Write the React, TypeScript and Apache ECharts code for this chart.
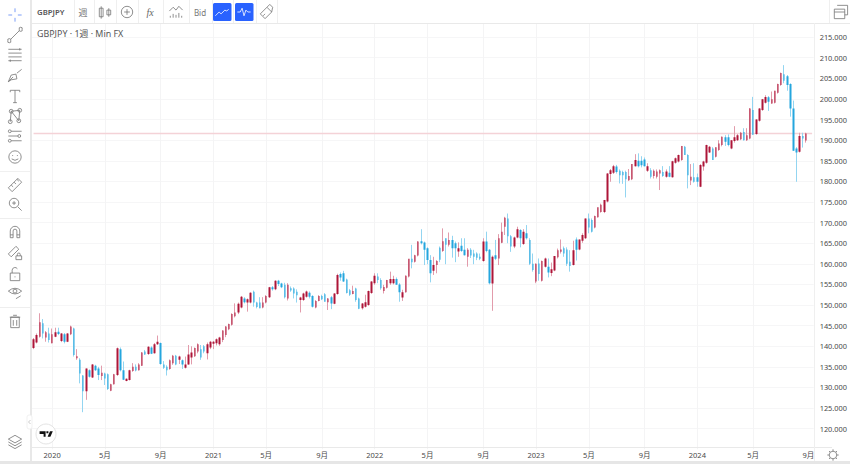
import React, { useEffect, useRef } from "react";
import * as echarts from "echarts";

// Weekly bars, each row: [open, high, low, close]
const weeks2019 = [
  [139.6,142.0,139.3,141.7],[140.9,143.1,140.7,142.7],[142.3,148.0,142.1,145.8],[145.6,146.6,141.9,143.1],
  [142.1,143.7,141.1,143.4],[143.1,144.5,140.9,141.5],
];
const weeks2020 = [
  [140.7,144.3,140.7,142.9],[142.3,144.5,142.2,143.4],[143.5,144.5,142.7,143.0],[141.3,143.2,141.0,143.1],
  [142.9,143.2,140.7,141.1],[141.1,143.2,141.0,143.1],[142.9,145.0,142.7,144.8],[144.3,144.5,137.5,137.9],
  [137.1,139.3,136.7,137.6],[136.7,137.1,131.0,133.4],[132.9,133.0,124.0,129.1],[129.1,134.6,127.0,134.6],
  [134.2,134.4,132.4,132.6],[132.4,135.7,132.3,135.6],[135.3,135.5,134.0,134.2],[134.6,135.0,131.8,133.0],
  [132.8,135.3,131.8,133.6],[133.4,133.6,130.6,132.2],[133.2,133.4,129.4,129.6],[129.2,130.9,129.1,130.8],
  [130.8,133.3,130.7,133.2],[133.0,139.7,132.8,139.5],[139.3,139.7,133.9,134.2],[134.2,136.3,131.8,131.9],
  [131.6,132.2,131.5,132.1],[131.8,134.3,131.7,134.2],[134.0,135.9,133.8,135.0],[135.0,135.6,133.9,134.1],
  [134.2,135.9,134.1,135.6],[135.3,138.6,135.2,138.5],[138.7,139.1,137.9,138.0],[138.1,140.0,137.9,139.9],
  [139.7,140.0,138.1,138.2],[138.3,140.8,138.2,140.5],[140.5,142.6,140.3,141.1],[140.8,140.9,135.5,135.7],
  [135.6,136.4,134.5,134.8],[135.0,135.4,132.9,134.2],[134.5,136.8,134.3,136.6],[135.9,137.9,135.5,137.7],
  [137.7,137.9,135.4,135.6],[136.7,137.7,135.7,137.5],[136.6,136.8,134.5,135.6],[134.8,137.5,134.6,135.6],
  [135.6,140.3,135.5,138.0],[137.3,140.0,135.6,138.5],[137.6,139.7,137.4,139.6],[138.7,140.7,138.3,140.5],
  [139.3,140.3,136.7,137.3],[140.0,140.3,138.3,138.7],[138.3,140.9,136.8,140.5],[139.7,141.3,139.3,141.1],
];
const weeks2021 = [
  [140.6,141.3,139.3,141.1],[140.7,141.9,140.2,141.7],[140.5,142.3,140.1,142.1],[141.5,143.9,141.0,143.8],
  [142.7,144.9,142.2,144.8],[144.1,145.5,143.9,145.4],[145.2,148.0,145.0,147.8],[147.3,150.4,147.0,148.2],
  [148.2,150.6,147.8,150.3],[149.4,152.2,149.2,152.0],[151.6,151.9,150.4,150.7],[150.6,151.6,148.4,151.4],
  [150.6,153.1,150.4,153.0],[153.2,153.5,149.6,150.6],[150.6,150.8,149.2,149.5],[150.6,151.9,149.2,149.2],
  [149.4,151.9,149.2,150.6],[150.6,152.4,150.4,152.2],[151.9,154.4,151.7,154.3],[154.3,154.6,153.5,153.8],
  [153.8,156.0,153.6,155.9],[155.9,156.1,154.6,155.1],[155.2,155.4,154.1,154.3],[154.9,155.4,151.6,151.9],
  [151.6,155.3,151.1,154.9],[154.1,154.5,153.2,153.5],[154.0,154.3,151.6,152.8],[153.2,153.8,150.6,152.4],
  [151.2,152.0,148.2,151.8],[151.2,153.0,151.0,152.8],[152.0,153.5,151.8,153.3],[153.0,153.3,151.6,152.0],
  [152.2,152.4,149.4,149.6],[149.4,151.2,149.2,151.0],[151.0,152.4,150.9,152.2],[152.2,152.5,151.2,151.4],
  [152.6,152.9,150.8,150.8],[150.7,151.7,148.8,151.6],[151.9,152.2,149.0,150.4],[150.3,152.9,150.2,152.8],
  [152.7,157.6,152.5,157.3],[157.5,157.9,155.9,156.7],[157.7,158.3,155.6,155.7],[156.2,156.4,152.8,152.9],
  [153.6,153.9,152.2,152.5],[152.7,154.7,152.6,153.4],[154.0,154.2,150.8,151.2],[151.6,151.8,149.0,149.1],
  [149.2,150.5,148.9,150.4],[149.6,152.5,149.4,150.7],[150.0,153.5,149.8,153.4],[152.9,155.8,152.7,155.7],
];
const weeks2022 = [
  [155.3,157.7,154.9,157.1],[156.9,157.7,155.3,156.1],[156.1,156.5,153.7,154.1],[153.4,154.9,152.8,154.4],
  [154.2,156.1,154.0,156.1],[155.3,158.1,154.9,156.3],[155.3,157.1,155.0,156.3],[156.3,156.7,154.9,154.9],
  [155.0,155.3,150.8,153.1],[151.8,153.7,151.0,153.1],[153.1,157.2,153.0,157.1],[156.9,161.2,156.7,161.2],
  [161.2,164.6,158.9,160.4],[160.5,162.2,160.3,162.1],[162.0,165.5,161.8,165.4],[165.5,168.4,164.7,165.0],
  [165.2,165.4,159.7,163.4],[163.8,164.0,159.9,160.9],[160.9,162.1,155.5,157.7],[158.3,161.7,157.3,159.7],
  [159.7,160.9,157.7,160.7],[163.9,164.2,160.4,161.0],[163.1,168.6,162.9,165.5],[166.2,166.2,159.9,164.6],
  [164.6,167.6,164.2,165.8],[165.8,166.8,161.5,163.8],[165.0,165.4,160.4,163.8],[163.0,165.2,161.7,163.8],
  [164.4,166.2,162.9,163.1],[163.4,166.2,162.0,162.1],[161.7,163.8,159.3,163.4],[163.4,163.8,161.4,162.0],
  [162.5,163.4,159.9,161.7],[162.5,162.8,160.9,161.5],[161.7,162.5,160.9,161.2],[160.7,166.2,160.5,165.4],
  [165.4,167.8,162.8,163.1],[163.4,163.6,155.0,155.3],[155.2,162.0,148.6,161.7],[162.1,165.8,160.9,161.2],
  [161.3,167.2,159.7,166.2],[165.1,170.0,165.0,167.8],[169.0,171.4,167.0,171.2],[171.0,172.2,165.0,166.7],
  [166.7,167.0,162.9,164.2],[164.2,166.6,163.8,166.4],[166.4,169.0,166.2,168.4],[168.2,168.4,164.0,166.2],
  [164.8,168.4,164.6,167.8],[167.4,169.4,165.9,166.2],[165.8,166.2,159.7,160.0],[160.0,162.5,158.1,158.5],
];
const weeks2023 = [
  [155.7,160.1,155.3,160.0],[160.1,161.3,155.9,157.5],[155.9,160.8,155.7,160.7],[159.3,161.5,159.1,161.3],
  [159.3,161.3,156.7,157.9],[157.8,160.3,157.0,158.7],[158.4,161.9,158.2,161.9],[161.6,163.7,161.3,163.3],
  [162.9,165.9,162.5,163.5],[163.8,164.2,161.7,162.5],[163.5,164.0,159.5,160.0],[160.5,163.3,158.1,159.5],
  [159.7,165.6,159.6,163.3],[165.9,166.4,160.8,163.4],[163.5,165.9,163.3,165.9],[165.6,167.4,165.1,167.0],
  [166.2,171.0,166.0,171.0],[171.0,172.2,167.4,168.8],[170.6,171.0,167.6,167.8],[168.8,171.7,168.6,171.6],
  [171.3,173.7,171.2,173.7],[172.6,174.6,172.4,174.3],[172.6,175.5,172.3,175.5],[175.1,182.0,174.9,181.9],
  [181.8,183.0,179.9,182.7],[182.1,184.0,181.8,183.7],[183.6,184.0,181.9,182.3],[182.6,182.9,179.5,181.5],
  [182.3,182.6,179.4,181.5],[182.3,182.6,176.1,180.5],[180.3,183.0,180.1,181.3],[180.5,184.2,180.3,184.2],
  [183.7,186.6,183.6,185.2],[185.0,186.8,183.4,183.7],[185.0,186.1,183.4,183.9],[185.3,185.8,183.6,183.7],
  [182.6,184.4,182.3,183.7],[182.7,183.2,180.7,181.1],[181.3,182.9,180.7,182.6],[181.1,182.9,180.7,182.4],
  [181.9,182.9,177.9,182.7],[182.3,183.7,181.1,181.3],[181.1,182.9,180.9,182.4],[182.1,183.7,181.0,181.1],
  [181.0,185.0,180.9,184.9],[184.5,185.8,184.3,185.6],[184.8,186.5,184.6,186.4],[185.2,188.6,185.0,188.6],
  [188.4,188.6,186.4,186.4],[186.4,186.6,178.3,181.5],[180.2,184.2,179.1,181.1],[181.0,184.4,179.7,179.9],
];
const weeks2024 = [
  [181.0,181.9,178.7,179.9],[178.7,184.2,178.6,184.0],[183.6,185.0,182.6,184.8],[184.5,188.9,184.3,188.8],
  [187.0,188.6,186.9,188.4],[188.0,188.3,185.2,185.2],[186.0,188.3,185.8,188.3],[187.6,190.0,187.4,189.2],
  [188.8,190.9,188.5,190.8],[190.7,191.2,188.6,189.6],[190.7,191.4,188.5,188.8],[188.0,190.0,187.8,190.0],
  [189.8,193.4,189.4,190.7],[190.0,191.5,189.8,191.2],[190.2,192.0,190.0,191.8],[192.0,192.9,189.9,190.0],
  [190.0,192.9,189.8,191.2],[190.4,197.8,190.2,197.7],[197.3,200.5,191.3,191.3],[191.5,195.1,191.3,195.0],
  [194.7,197.8,194.5,197.7],[197.3,200.0,197.1,199.9],[199.1,200.9,198.9,200.5],[200.4,200.7,197.1,199.3],
  [198.9,201.8,198.8,199.9],[199.1,202.0,198.9,202.0],[201.5,203.7,201.3,203.6],[203.4,206.4,203.2,206.3],
  [206.0,208.2,203.8,204.4],[205.5,205.8,202.0,203.4],[203.6,203.8,195.7,197.7],[197.7,199.6,187.4,187.4],
  [188.0,188.3,179.9,187.0],[187.2,191.8,187.0,191.0],[191.0,191.8,188.2,190.4],[189.9,191.8,189.4,191.6],
];

const firstWeek = "2019-11-25";
const emptyWeeksAtEnd = 2;
const lastPrice = 191.6;
const tickDates = ["2020-01-06","2020-05-04","2020-09-07","2021-01-04","2021-05-03","2021-09-06","2022-01-03","2022-05-02","2022-09-05","2023-01-02","2023-05-01","2023-09-04","2024-01-01","2024-05-06","2024-09-02"];
const tickLabels = ["2020","5月","9月","2021","5月","9月","2022","5月","9月","2023","5月","9月","2024","5月","{e|9月}"];
const gridDates = tickDates.slice(0, -1);

const GREY = "#757575";
const FONT = "'Noto Sans', 'Noto Sans CJK JP', sans-serif";

const bars = [...weeks2019, ...weeks2020, ...weeks2021, ...weeks2022, ...weeks2023, ...weeks2024];
const weekDates = Array.from({ length: bars.length + emptyWeeksAtEnd }, (_, i) => {
  const d = new Date(firstWeek + "T00:00:00Z");
  d.setUTCDate(d.getUTCDate() + i * 7);
  return d.toISOString().slice(0, 10);
});
const candleData = bars.map(([o, h, l, c]) => [o, c, l, h]);
const lastPriceLine = weekDates.map(() => lastPrice);

const ICONS: Record<string, string> = {
  cross: "M0 -7V-3M0 3V7M-7 0H-3M3 0H7",
  trend: "M-4.5 4.5L4.5 -4.5M-7.5 6a1.6 1.6 0 1 0 3 0a1.6 1.6 0 1 0 -3 0M4.5 -6a1.6 1.6 0 1 0 3 0a1.6 1.6 0 1 0 -3 0",
  hlines: "M-7 -6H7M-7 -2H7M-7 2H7M-7 6H7M5 -7.2V-4.8M-5 4.8V7.2",
  pen: "M-7 6L-4 -1L1 -2L2 3L-4 4ZM-7 6L-2 1M2 -3L7 -7",
  tee: "M-5 -4V-6H5V-4M0 -6V7M-2 7H2",
  nodes: "M-5 6L-4 -5L4 5L5 -6M-4 -5L5 -6M-7 6a2 2 0 1 0 4 0a2 2 0 1 0 -4 0M-6 -5a2 2 0 1 0 4 0a2 2 0 1 0 -4 0M2 5a2 2 0 1 0 4 0a2 2 0 1 0 -4 0M3 -6a2 2 0 1 0 4 0a2 2 0 1 0 -4 0",
  fib: "M-4 -5H7M-7 0H3M-4 5H7M-7 -5a1.5 1.5 0 1 0 3 0a1.5 1.5 0 1 0 -3 0M3 0a1.5 1.5 0 1 0 3 0a1.5 1.5 0 1 0 -3 0M-7 5a1.5 1.5 0 1 0 3 0a1.5 1.5 0 1 0 -3 0",
  smile: "M-6.5 0a6.5 6.5 0 1 0 13 0a6.5 6.5 0 1 0 -13 0M-3.5 2Q0 5 3.5 2M-2.5 -2V-1M2.5 -2V-1",
  ruler: "M-7 3L3 -7L7 -3L-3 7ZM-4 0l2 2M-1 -3l2 2M2 -6l2 2",
  zoom: "M-6 -1a5 5 0 1 0 10 0a5 5 0 1 0 -10 0M3 3L7 7M-3 -1H1M-1 -3V1",
  magnet: "M-5 6V-1a5 5 0 0 1 10 0V6H2V-1a2 2 0 0 0 -4 0V6ZM-5 3H-2M2 3H5",
  pencilLock: "M-7 1L1 -7L4 -4L-4 4ZM1 3H7V7H1ZM2.5 3V1.5a1.5 1.5 0 0 1 3 0V3",
  lock: "M-5 -1H5V7H-5ZM-3 -1V-4a3 3 0 0 1 5.5 -1.5M-0.5 3H0.5",
  eye: "M-7 -2Q0 -8 7 -2Q0 4 -7 -2ZM-2 -2a2 2 0 1 0 4 0a2 2 0 1 0 -4 0M1 6L6 3",
  trash: "M-4.5 -4H4.5V7H-4.5ZM-5.5 -4H5.5M-2 -6H2M-1.8 -1V5M1.8 -1V5",
  layers: "M0 -6L7 -2L0 2L-7 -2ZM-7 1L0 5L7 1M-7 4L0 8L7 4",
  candles: "M-4 -6V7M-6 -4H-2V5H-6ZM4 -4V5M2 -2H6V3H2Z",
  plusCircle: "M-6 0a6 6 0 1 0 12 0a6 6 0 1 0 -12 0M-3 0H3M0 -3V3",
  indicator: "M-7 -1L-3 -5L0 -2L3 -6L7 -2M-6 6V4M-3 6V2M0 6V3M3 6V1M6 6V4",
  rise: "M-7 4L-3 0L-1 2L3 -2L5 -1L7 -3",
  wave: "M-7 0H-4L-2 -4L0 4L2 -2L4 0H7",
  brush: "M-6 2L1 -5L6 0L-1 7ZM1 -5L4 -8L7 -5L6 0M-3 4L-1 2",
  windows: "M-6 -3H5V7H-6ZM-6 0H5M-3 -7H8V3H5",
  gear: "M-4 0a4 4 0 1 0 8 0a4 4 0 1 0 -8 0M0 -6V-4M0 4V6M-6 0H-4M4 0H6M-4.2 -4.2L-3 -3M3 3L4.2 4.2M-4.2 4.2L-3 3M3 -3L4.2 -4.2",
  tvLogo: "M-8 -3.5H-0.5V3.5H-3V0H-8ZM2 3.5L5 -3.5H8.5L5.5 3.5ZM0.5 -3.5H3V-1H0.5Z",
  chevron: "M1 -2L-1 0L1 2",
};
Object.keys(ICONS).forEach((k) => {
  echarts.graphic.registerShape("ic_" + k, echarts.graphic.extendPath(ICONS[k], {}));
});

const icon = (name: string, x: number, y: number, s = 0.95, stroke = GREY) => ({
  type: "ic_" + name, x, y, scaleX: s, scaleY: s, silent: true, z: 50,
  style: { stroke, fill: "none", lineWidth: 0.85 },
});
const txt = (text: string, x: number, y: number, fontSize: number, extra: any = {}) => ({
  type: "text", x, y, silent: true, z: 50,
  style: { text, fontSize, fontFamily: FONT, fill: "#555", align: "left", verticalAlign: "middle", ...extra },
});
const vline = (x: number, y1: number, y2: number, stroke = "#efefef", w = 1) => ({
  type: "line", silent: true, z: 49, shape: { x1: x, y1, x2: x, y2 }, style: { stroke, lineWidth: w },
});
const hline = (x1: number, x2: number, y: number, stroke = "#e9e9e9", w = 1) => ({
  type: "line", silent: true, z: 49, shape: { x1, y1: y, x2, y2: y }, style: { stroke, lineWidth: w },
});
const box = (x: number, y: number, width: number, height: number, fill: string, r = 0, z = 48) => ({
  type: "rect", silent: true, z, shape: { x, y, width, height, r }, style: { fill },
});

const chrome = [
  box(32, 0, 818, 23, "#ffffff"),
  box(0, 0, 31, 464, "#ffffff"),
  box(0, 461, 850, 3, "#e6e6e6", 0, 49),
  hline(32, 850, 23.5),
  hline(32, 832, 447.5),
  vline(814.5, 23, 461),
  vline(31, 0, 461, "#e8e8e8", 2),
  ...[74, 94, 116, 138, 163, 189, 212, 233, 256, 277, 829].map((x) => vline(x + 0.5, 0, 23)),
  hline(0, 30, 171.5, "#f0f0f0"),
  hline(0, 30, 218.5, "#eeeeee"),
  hline(0, 30, 307.5, "#eeeeee"),
  box(213, 3, 18.5, 18, "#2962ff", 1.5),
  box(235, 3, 18.5, 18, "#2962ff", 1.5),
  icon("cross", 15, 15, 0.95, "#5c86f5"),
  icon("trend", 15, 35),
  icon("hlines", 15, 55),
  icon("pen", 15, 76),
  icon("tee", 15, 96),
  icon("nodes", 15, 116),
  icon("fib", 15, 136),
  icon("smile", 15, 157),
  icon("ruler", 15, 185),
  icon("zoom", 15, 204),
  icon("magnet", 15, 232),
  icon("pencilLock", 15, 253),
  icon("lock", 15, 274),
  icon("eye", 15, 293),
  icon("trash", 15, 321),
  icon("layers", 15, 441),
  icon("candles", 105, 12),
  icon("plusCircle", 127, 12),
  icon("indicator", 176, 12),
  icon("rise", 222, 12, 0.95, "#ffffff"),
  icon("wave", 244, 12, 0.95, "#ffffff"),
  icon("brush", 266, 12),
  icon("windows", 840, 12),
  icon("gear", 833, 455),
  txt("GBPJPY", 37, 12, 7.8, { fontWeight: 600, fill: "#555" }),
  txt("週", 83, 12, 9, { align: "center", fill: "#777" }),
  txt("fx", 150, 12, 10, { align: "center", fontStyle: "italic", fontFamily: "'Liberation Serif', serif", fill: "#666" }),
  txt("Bid", 200, 12, 8, { align: "center", fill: "#777" }),
  txt("GBPJPY · 1週 · Min FX", 37, 33, 8.9, { fill: "#555" }),
  { type: "rect", silent: true, z: 51, shape: { x: 27, y: 415, width: 5, height: 14, r: 2 }, style: { fill: "#ffffff", stroke: "#eeeeee", lineWidth: 0.8 } },
  { type: "ic_chevron", x: 29.5, y: 422, silent: true, z: 52, style: { stroke: "#b5b5b5", fill: "none", lineWidth: 0.7 } },
  { type: "circle", silent: true, z: 50, shape: { cx: 46, cy: 434, r: 10 }, style: { fill: "#ffffff", stroke: "#e4e4e4", lineWidth: 1 } },
  { type: "ic_tvLogo", x: 46, y: 434, scaleX: 0.8, scaleY: 0.8, silent: true, z: 51, style: { fill: "#111111" } },
];

export default function App() {
  const ref = useRef<HTMLDivElement>(null);
  useEffect(() => {
    const chart = echarts.init(ref.current!, undefined, { renderer: "svg" });
    chart.setOption({
      animation: false,
      backgroundColor: "#ffffff",
      color: ["#f4d2d7", "#b31a3d", "#2aa9e0"],
      grid: { left: 32, right: 36, top: 16.5, bottom: 14.7, containLabel: false },
      xAxis: {
        type: "category",
        data: weekDates,
        boundaryGap: true,
        axisLine: { show: false },
        axisTick: { show: false },
        axisLabel: {
          margin: 2,
          fontSize: 7.5,
          fontFamily: FONT,
          color: "#4a4a4a",
          hideOverlap: false,
          interval: (_: number, v: string) => tickDates.includes(v),
          formatter: (v: string) => tickLabels[tickDates.indexOf(v)] ?? "",
          rich: { e: { fontSize: 7.5, fontFamily: FONT, color: "#4a4a4a", padding: [0, 0, 0, 5] } },
        },
        splitLine: {
          show: true,
          alignWithLabel: true,
          interval: (_: number, v: string) => gridDates.includes(v),
          lineStyle: { color: "#f4f4f5", width: 1 },
        },
      },
      yAxis: {
        type: "value",
        position: "right",
        min: 115,
        max: 220,
        interval: 5,
        scale: true,
        axisLine: { show: false },
        axisTick: { show: false },
        axisLabel: {
          margin: 6,
          fontSize: 7.4,
          fontFamily: FONT,
          color: "#4a4a4a",
          showMinLabel: false,
          showMaxLabel: false,
          formatter: (v: number) => v.toFixed(3),
        },
        splitLine: { show: true, showMinLine: false, showMaxLine: false, lineStyle: { color: "#f6f6f7", width: 1 } },
      },
      series: [
        {
          name: "Last price",
          type: "line",
          data: lastPriceLine,
          symbol: "none",
          silent: true,
          itemStyle: { color: "#f4d2d7" },
          lineStyle: { color: "#f4d2d7", width: 1.6 },
          z: 1,
        },
        {
          name: "GBPJPY wicks",
          type: "candlestick",
          data: candleData,
          barWidth: 1,
          silent: true,
          z: 2,
          itemStyle: { color: "#e29bab", color0: "#93d5f1", borderColor: "#e29bab", borderColor0: "#93d5f1", borderWidth: 1 },
        },
        {
          name: "GBPJPY",
          type: "candlestick",
          data: candleData,
          barWidth: 2,
          silent: true,
          z: 3,
          itemStyle: { color: "#ad1538", color0: "#25a6de", borderColor: "#ad1538", borderColor0: "#25a6de", borderWidth: 0 },
        },
      ],
      graphic: { elements: chrome },
    });
    return () => chart.dispose();
  }, []);
  return <div ref={ref} style={{ position: "absolute", left: 0, top: 0, width: 850, height: 464 }} />;
}
